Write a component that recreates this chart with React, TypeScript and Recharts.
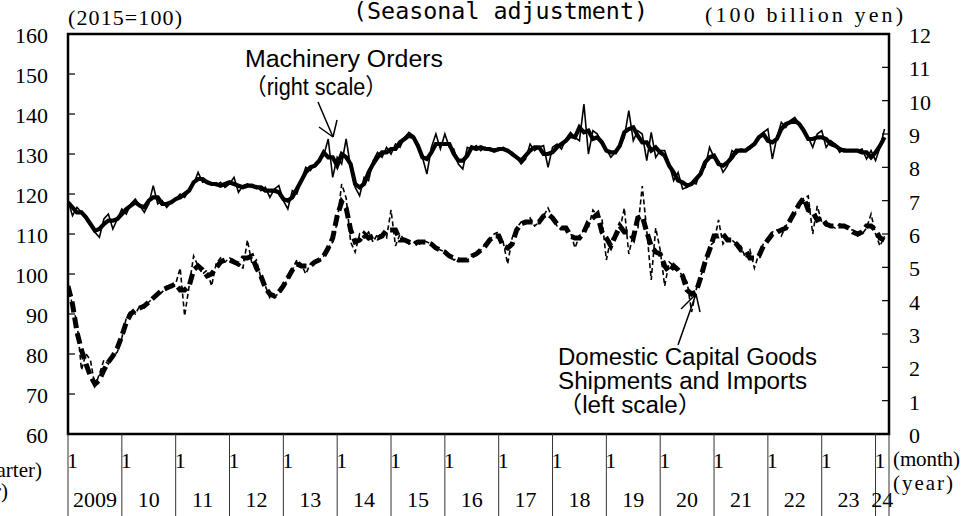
import React from 'react';
import { ComposedChart, Line, XAxis, YAxis, ReferenceArea } from 'recharts';

// ---- categories / tick labels ----
const YEAR_LABELS = ['2009', '10', '11', '12', '13', '14', '15', '16', '17', '18', '19', '20', '21', '22', '23', '24'];
const MONTH_LABEL = '1';
const LEFT_TICKS = [60, 70, 80, 90, 100, 110, 120, 130, 140, 150, 160];
const RIGHT_TICKS = [0, 1, 2, 3, 4, 5, 6, 7, 8, 9, 10, 11, 12];

// ---- series (monthly, Jan 2009 .. Mar 2024) ----
// Machinery Orders, monthly (100 billion yen, right scale)
const machineryOrders = [
  7.0, 6.55, 6.8, 6.65, 6.5, 6.35, 6.05, 5.9, 6.45, 6.6, 6.15, 6.45,
  6.75, 6.6, 6.9, 7.05, 6.85, 6.65, 6.9, 7.45, 6.9, 7.0, 6.8, 6.95,
  7.05, 7.2, 7.1, 7.3, 7.5, 7.85, 7.55, 7.6, 7.5, 7.45, 7.55, 7.4,
  7.5, 7.7, 7.25, 7.45, 7.5, 7.4, 7.45, 7.3, 7.4, 7.1, 7.35, 7.45,
  7.0, 6.75, 7.3, 7.2, 7.6, 8.0, 7.9, 8.1, 8.2, 8.35, 8.85, 7.7,
  8.3, 8.1, 8.85, 8.0, 7.4, 7.15, 7.7, 7.6, 8.2, 8.45, 8.3, 8.6,
  8.4, 8.7, 8.6, 8.9, 9.05, 8.95, 8.7, 8.3, 7.8, 8.6, 9.0, 8.55,
  9.0, 8.6, 8.55, 8.1, 7.95, 8.6, 8.55, 8.65, 8.5, 8.6, 8.5, 8.55,
  8.5, 8.6, 8.5, 8.45, 8.3, 8.1, 8.25, 8.7, 8.5, 8.6, 8.65, 8.0,
  8.6, 8.7, 8.55, 8.85, 9.05, 8.9, 8.8, 9.9, 8.4, 9.1, 9.0, 8.7,
  8.55, 8.3, 8.45, 8.6, 8.9, 9.7, 8.8, 9.1, 9.0, 8.2, 9.05, 8.3,
  8.5, 8.5, 8.1, 7.6, 7.85, 7.35, 7.4, 7.55, 7.5, 7.9, 8.0, 8.6,
  8.3, 8.2, 7.85, 8.05, 8.5, 8.4, 8.55, 8.5, 8.55, 8.7, 8.9, 9.05,
  9.15, 8.25, 8.9, 9.35, 9.2, 9.4, 9.5, 9.3, 9.1, 8.9, 8.6, 9.0,
  9.1, 8.6, 8.8, 8.7, 8.45, 8.55, 8.5, 8.5, 8.5, 8.55, 8.25, 8.5,
  8.2, 8.6, 9.15,
];

// Machinery Orders, 3-month average (right scale)
const machineryOrdersAvg = [
  6.95, 6.8, 6.65, 6.65, 6.5, 6.3, 6.1, 6.15, 6.3, 6.4, 6.4, 6.45,
  6.6, 6.75, 6.85, 6.95, 6.85, 6.8, 7.0, 7.1, 7.1, 6.9, 6.9, 6.95,
  7.05, 7.1, 7.2, 7.3, 7.55, 7.65, 7.65, 7.55, 7.5, 7.5, 7.45, 7.5,
  7.55, 7.5, 7.45, 7.4, 7.45, 7.45, 7.4, 7.4, 7.3, 7.3, 7.3, 7.25,
  7.05, 7.0, 7.1, 7.35, 7.6, 7.85, 8.0, 8.05, 8.2, 8.45, 8.3, 8.3,
  8.05, 8.4, 8.3, 8.1, 7.5, 7.4, 7.5, 7.85, 8.1, 8.3, 8.45, 8.45,
  8.55, 8.55, 8.75, 8.85, 8.95, 8.9, 8.65, 8.3, 8.25, 8.45, 8.7, 8.7,
  8.7, 8.7, 8.4, 8.2, 8.2, 8.35, 8.6, 8.55, 8.6, 8.55, 8.55, 8.5,
  8.55, 8.55, 8.5, 8.4, 8.3, 8.2, 8.35, 8.5, 8.6, 8.6, 8.4, 8.4,
  8.45, 8.6, 8.7, 8.8, 8.95, 8.9, 9.2, 9.05, 9.1, 8.85, 8.9, 8.75,
  8.5, 8.45, 8.45, 8.65, 9.05, 9.15, 9.2, 8.95, 8.75, 8.75, 8.5, 8.6,
  8.45, 8.35, 8.05, 7.85, 7.6, 7.55, 7.45, 7.5, 7.65, 7.8, 8.15, 8.3,
  8.35, 8.1, 8.05, 8.15, 8.3, 8.5, 8.5, 8.5, 8.6, 8.7, 8.9, 9.0,
  8.8, 8.75, 8.85, 9.15, 9.3, 9.35, 9.4, 9.3, 9.1, 8.85, 8.85, 8.9,
  8.9, 8.85, 8.7, 8.65, 8.55, 8.5, 8.5, 8.5, 8.5, 8.45, 8.45, 8.3,
  8.45, 8.65, 8.9,
];

// Domestic Capital Goods Shipments and Imports, monthly (2015=100, left scale)
const capitalGoods = [
  97.5, 92, 88, 76, 80, 78.5, 72, 75, 78.5, 77.5, 79.5, 80.5,
  84, 89, 91, 90, 92, 91.5, 93, 94, 95, 95.5, 97, 96.5,
  97.5, 101.5, 89.5, 97, 104.5, 102, 100, 101, 97, 102.5, 104, 103,
  104, 103.5, 102, 101.5, 108.5, 102.5, 103.5, 99, 97, 94, 94.5, 95,
  96.5, 99, 101, 103.5, 102.5, 100, 102.5, 103, 103.5, 104.5, 106.5, 108,
  113, 122.5, 119, 108, 105.5, 110, 109, 110.5, 108, 110, 109.5, 109,
  116, 107, 110, 108.5, 107.5, 108, 107, 108.5, 108, 107.5, 106.5, 106,
  105.5, 104.5, 103.5, 104, 103, 103.5, 104.5, 105, 106, 107.5, 108.5, 110,
  110.5, 108, 102.5, 109, 111.5, 113, 112.5, 114, 112, 113, 114.5, 116.5,
  114, 112, 111.5, 112, 110.5, 106.5, 109.5, 111, 111.5, 116, 114.5, 114,
  103.5, 109, 108.5, 111, 116.5, 105, 110, 111, 122, 111, 98.5, 111.5,
  106, 97, 103, 102, 101, 99.5, 98, 90.5, 96, 99.5, 102, 107,
  108, 113.5, 107.5, 109, 108.5, 107.5, 107, 104, 106, 101.5, 105, 107.5,
  108.5, 110.5, 111, 109.5, 112, 113.5, 115, 118, 119, 119.5, 110, 117,
  113, 112, 112, 111.5, 112.5, 112, 111, 111, 109.5, 110, 111.5, 115,
  110, 107, 109.5,
];

// Domestic Capital Goods Shipments and Imports, 3-month average (left scale)
const capitalGoodsAvg = [
  97, 92.5, 85.5, 81, 77.5, 74.5, 72.5, 73.5, 76, 78, 79.5, 81.5,
  84.5, 88, 90, 91, 91.5, 92, 93, 94, 95, 96, 96.5, 97,
  97.5, 96, 96, 97, 101, 102, 101, 99.5, 100, 101.5, 103, 103.5,
  103.5, 103, 102.5, 104, 104, 104.5, 101.5, 99.5, 96.5, 95, 94.5, 95.5,
  97, 99, 101, 102.5, 102, 102, 102, 103, 103.5, 104.5, 106.5, 109,
  114.5, 118, 116.5, 111, 108, 108.5, 110, 109, 109.5, 109, 109.5, 111,
  111, 111, 108.5, 108.5, 108, 107.5, 108, 108, 108, 107.5, 106.5, 106,
  105.5, 104.5, 104, 103.5, 103.5, 103.5, 104.5, 105, 106, 107, 108.5, 109.5,
  109.5, 107, 106.5, 107.5, 111, 112.5, 113, 113, 113, 113, 114.5, 115,
  114, 112.5, 111.5, 111.5, 109.5, 109, 109, 110.5, 113, 114, 115, 110.5,
  109, 107, 109.5, 112, 110.5, 110.5, 109, 114, 114.5, 110.5, 107, 105.5,
  105, 102, 100.5, 102, 101, 99.5, 96, 95, 95.5, 99, 103, 106,
  109.5, 109.5, 110, 108.5, 108.5, 107.5, 106, 106, 104, 104, 104.5, 107,
  108.5, 110, 110.5, 111, 111.5, 113.5, 115.5, 117.5, 119, 116, 115.5, 113.5,
  114, 112.5, 112, 112, 112, 112, 111.5, 110.5, 110, 110.5, 112, 112,
  111, 109, 108.5,
];

const X_MAX = 183;
const MONTH_TICKS = YEAR_LABELS.map((_, i) => i * 12);

const data = machineryOrders.map((v, i) => ({
  m: i,
  mo: v,
  moAvg: machineryOrdersAvg[i],
  cg: capitalGoods[i],
  cgAvg: capitalGoodsAvg[i],
}));

// ---- layout ----
const W = 973;
const H = 516;
const PLOT_LEFT = 68;
const PLOT_RIGHT = 889;
const PLOT_TOP = 34;
const PLOT_BOTTOM = 434;
const PX_PER_MONTH = (PLOT_RIGHT - PLOT_LEFT) / X_MAX;

const SERIF = '"Liberation Serif", "DejaVu Serif", serif';
const SANS = '"Liberation Sans", Arial, "Noto Sans CJK JP", sans-serif';
const MONO = '"DejaVu Sans Mono", "Liberation Mono", monospace';

const XTick = (props: any) => {
  const { x, y, payload } = props;
  const v = payload.value as number;
  const idx = MONTH_TICKS.indexOf(v);
  const next = Math.min(v + 12, X_MAX);
  const center = x + ((next - v) / 2) * PX_PER_MONTH;
  return (
    <g>
      <line x1={x} y1={y} x2={x} y2={y + 90} stroke="#333" strokeWidth={1} />
      {idx >= 0 && (
        <text x={x - 1} y={y + 34} fontFamily={SERIF} fontSize={22} fill="#000">
          {MONTH_LABEL}
        </text>
      )}
      {idx >= 0 && (
        <text x={center} y={y + 73} textAnchor="middle" fontFamily={SERIF} fontSize={22} fill="#000">
          {YEAR_LABELS[idx]}
        </text>
      )}
    </g>
  );
};

const LeftTick = (props: any) => {
  const { x, y, payload } = props;
  return (
    <g>
      <line x1={x} y1={y} x2={x + 7} y2={y} stroke="#000" strokeWidth={1.2} />
      <text x={x - 20} y={y + 9} textAnchor="end" fontFamily={SERIF} fontSize={22} fill="#000">
        {payload.value}
      </text>
    </g>
  );
};

const RightTick = (props: any) => {
  const { x, y, payload } = props;
  return (
    <g>
      <line x1={x} y1={y} x2={x - 7} y2={y} stroke="#000" strokeWidth={1.2} />
      <text x={x + 20} y={y + 9} textAnchor="start" fontFamily={SERIF} fontSize={22} fill="#000">
        {payload.value}
      </text>
    </g>
  );
};

export default function App() {
  return (
    <div style={{ position: 'absolute', left: 0, top: 0, width: W, height: H, background: '#fff', overflow: 'hidden' }}>
      <ComposedChart
        width={W}
        height={H}
        data={data}
        margin={{ top: PLOT_TOP, right: 0, bottom: 0, left: 0 }}
      >
        <XAxis
          dataKey="m"
          type="number"
          domain={[0, X_MAX]}
          ticks={[...MONTH_TICKS, X_MAX]}
          interval={0}
          height={H - PLOT_BOTTOM}
          tickLine={false}
          axisLine={false}
          tickSize={0}
          tickMargin={0}
          tick={<XTick />}
          allowDataOverflow
        />
        <YAxis
          yAxisId="left"
          orientation="left"
          domain={[60, 160]}
          ticks={LEFT_TICKS}
          interval={0}
          width={PLOT_LEFT}
          tickLine={false}
          axisLine={false}
          tickSize={0}
          tickMargin={0}
          tick={<LeftTick />}
          allowDataOverflow
        />
        <YAxis
          yAxisId="right"
          orientation="right"
          domain={[0, 12]}
          ticks={RIGHT_TICKS}
          interval={0}
          width={W - PLOT_RIGHT}
          tickLine={false}
          axisLine={false}
          tickSize={0}
          tickMargin={0}
          tick={<RightTick />}
          allowDataOverflow
        />
        <Line yAxisId="left" dataKey="cgAvg" stroke="#000" strokeWidth={5} strokeDasharray="11 5" dot={false} isAnimationActive={false} />
        <Line yAxisId="left" dataKey="cg" stroke="#000" strokeWidth={1.6} strokeDasharray="5 3" dot={false} isAnimationActive={false} />
        <Line yAxisId="right" dataKey="moAvg" stroke="#000" strokeWidth={4.2} dot={false} isAnimationActive={false} />
        <Line yAxisId="right" dataKey="mo" stroke="#000" strokeWidth={1.6} dot={false} isAnimationActive={false} />
        <ReferenceArea
          yAxisId="left"
          x1={0}
          x2={X_MAX}
          y1={60}
          y2={160}
          fill="none"
          fillOpacity={0}
          stroke="#000"
          strokeWidth={2.5}
          ifOverflow="visible"
        />
      </ComposedChart>
      <svg
        width={W}
        height={H}
        style={{ position: 'absolute', left: 0, top: 0, pointerEvents: 'none' }}
      >
        <text x={353} y={19} fontFamily={MONO} fontSize={23} textLength={295} lengthAdjust="spacingAndGlyphs" fill="#000">
          (Seasonal adjustment)
        </text>
        <text x={68} y={25} fontFamily={SERIF} fontSize={22} textLength={114} lengthAdjust="spacing" fill="#000">
          (2015=100)
        </text>
        <text x={705} y={22} fontFamily={SERIF} fontSize={22} textLength={198} lengthAdjust="spacing" fill="#000">
          (100 billion yen)
        </text>
        <text x={893} y={466} fontFamily={SERIF} fontSize={21} textLength={67} lengthAdjust="spacing" fill="#000">
          (month)
        </text>
        <text x={893} y={490} fontFamily={SERIF} fontSize={21} textLength={60} lengthAdjust="spacing" fill="#000">
          (year)
        </text>
        <text x={42} y={477} textAnchor="end" fontFamily={SERIF} fontSize={21} fill="#000">
          (quarter)
        </text>
        <text x={8} y={498} textAnchor="end" fontFamily={SERIF} fontSize={21} fill="#000">
          (year)
        </text>

        <text x={245} y={67} fontFamily={SANS} fontSize={23} textLength={198} lengthAdjust="spacingAndGlyphs" fill="#000">
          Machinery Orders
        </text>
        <text x={245} y={95} fontFamily={SANS} fontSize={23} textLength={142} lengthAdjust="spacingAndGlyphs" fill="#000">
          （right scale）
        </text>
        <line x1={318} y1={102} x2={333} y2={137} stroke="#000" strokeWidth={1.5} />
        <line x1={319} y1={127} x2={333} y2={137} stroke="#000" strokeWidth={1.5} />
        <line x1={337} y1={120} x2={333} y2={137} stroke="#000" strokeWidth={1.5} />

        <text x={558} y={365} fontFamily={SANS} fontSize={23} textLength={259} lengthAdjust="spacingAndGlyphs" fill="#000">
          Domestic Capital Goods
        </text>
        <text x={558} y={389} fontFamily={SANS} fontSize={23} textLength={249} lengthAdjust="spacingAndGlyphs" fill="#000">
          Shipments and Imports
        </text>
        <text x={558} y={413} fontFamily={SANS} fontSize={23} textLength={144} lengthAdjust="spacingAndGlyphs" fill="#000">
          （left scale）
        </text>
        <line x1={678} y1={345} x2={696} y2={294} stroke="#000" strokeWidth={1.5} />
        <line x1={681} y1={309} x2={696} y2={294} stroke="#000" strokeWidth={1.5} />
        <line x1={700} y1={312} x2={696} y2={294} stroke="#000" strokeWidth={1.5} />
      </svg>
    </div>
  );
}
